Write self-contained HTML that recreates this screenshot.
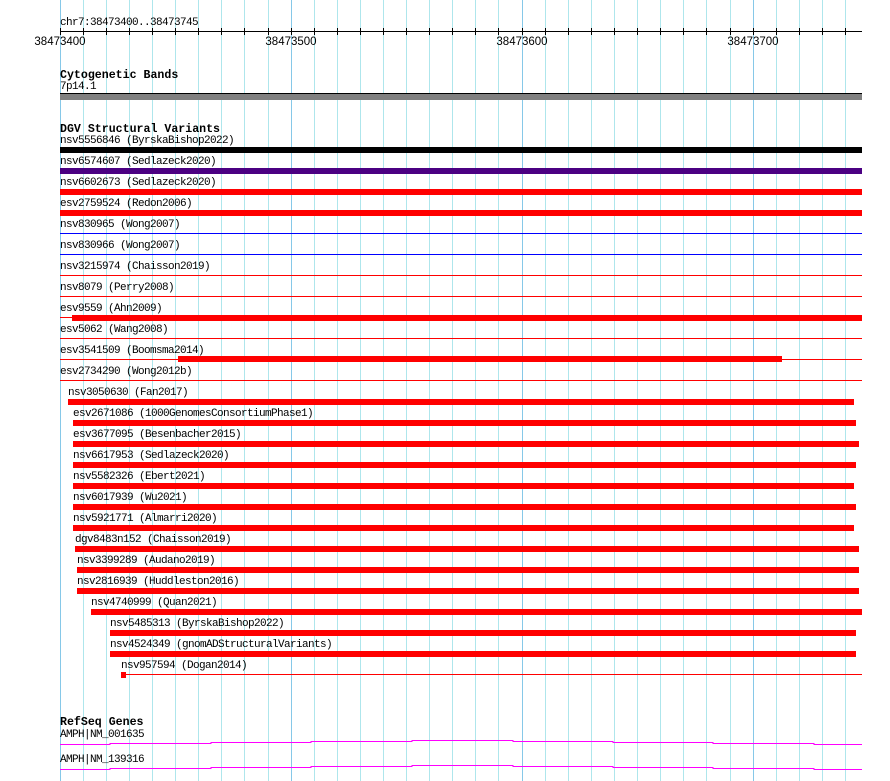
<!DOCTYPE html>
<html><head><meta charset="utf-8"><style>
html,body{margin:0;padding:0;background:#fff;width:890px;height:781px;overflow:hidden}
svg{display:block}
text{font-family:"Liberation Mono",monospace;font-size:11px;letter-spacing:-0.6px;fill:#000}
.t{font-weight:bold;font-size:11.6px;letter-spacing:0}
.s{font-family:"Liberation Sans",sans-serif;font-size:11.5px;letter-spacing:0}
</style></head><body>
<svg width="890" height="781" xmlns="http://www.w3.org/2000/svg">
<g stroke="#aee6ec" stroke-width="1">
<line x1="83.5" y1="0" x2="83.5" y2="781"/><line x1="106.5" y1="0" x2="106.5" y2="781"/><line x1="129.5" y1="0" x2="129.5" y2="781"/><line x1="152.5" y1="0" x2="152.5" y2="781"/><line x1="175.5" y1="0" x2="175.5" y2="781"/><line x1="198.5" y1="0" x2="198.5" y2="781"/><line x1="221.5" y1="0" x2="221.5" y2="781"/><line x1="244.5" y1="0" x2="244.5" y2="781"/><line x1="268.5" y1="0" x2="268.5" y2="781"/>
<line x1="314.5" y1="0" x2="314.5" y2="781"/><line x1="337.5" y1="0" x2="337.5" y2="781"/><line x1="360.5" y1="0" x2="360.5" y2="781"/><line x1="383.5" y1="0" x2="383.5" y2="781"/><line x1="406.5" y1="0" x2="406.5" y2="781"/><line x1="429.5" y1="0" x2="429.5" y2="781"/><line x1="452.5" y1="0" x2="452.5" y2="781"/><line x1="475.5" y1="0" x2="475.5" y2="781"/><line x1="498.5" y1="0" x2="498.5" y2="781"/>
<line x1="545.5" y1="0" x2="545.5" y2="781"/><line x1="568.5" y1="0" x2="568.5" y2="781"/><line x1="591.5" y1="0" x2="591.5" y2="781"/><line x1="614.5" y1="0" x2="614.5" y2="781"/><line x1="637.5" y1="0" x2="637.5" y2="781"/><line x1="660.5" y1="0" x2="660.5" y2="781"/><line x1="683.5" y1="0" x2="683.5" y2="781"/><line x1="706.5" y1="0" x2="706.5" y2="781"/><line x1="730.5" y1="0" x2="730.5" y2="781"/>
<line x1="776.5" y1="0" x2="776.5" y2="781"/><line x1="799.5" y1="0" x2="799.5" y2="781"/><line x1="822.5" y1="0" x2="822.5" y2="781"/><line x1="845.5" y1="0" x2="845.5" y2="781"/>
</g>
<g stroke="#86c8e8" stroke-width="1">
<line x1="60.5" y1="0" x2="60.5" y2="781"/><line x1="291.5" y1="0" x2="291.5" y2="781"/><line x1="522.5" y1="0" x2="522.5" y2="781"/><line x1="753.5" y1="0" x2="753.5" y2="781"/>
</g>
<!-- ruler -->
<text x="60" y="25">chr7:38473400..38473745</text>
<line x1="60" y1="31.5" x2="862" y2="31.5" stroke="#000"/>
<g stroke="#000">
<path d="M60.5 28V35M83.5 28V35M106.5 28V35M129.5 28V35M152.5 28V35M175.5 28V35M198.5 28V35M221.5 28V35M244.5 28V35M268.5 28V35M291.5 28V35M314.5 28V35M337.5 28V35M360.5 28V35M383.5 28V35M406.5 28V35M429.5 28V35M452.5 28V35M475.5 28V35M498.5 28V35M522.5 28V35M545.5 28V35M568.5 28V35M591.5 28V35M614.5 28V35M637.5 28V35M660.5 28V35M683.5 28V35M706.5 28V35M730.5 28V35M753.5 28V35M776.5 28V35M799.5 28V35M822.5 28V35M845.5 28V35"/>
</g>
<text class="s" x="60" y="45" text-anchor="middle">38473400</text>
<text class="s" x="291" y="45" text-anchor="middle">38473500</text>
<text class="s" x="522" y="45" text-anchor="middle">38473600</text>
<text class="s" x="753" y="45" text-anchor="middle">38473700</text>
<!-- cytobands -->
<text class="t" x="60" y="78">Cytogenetic Bands</text>
<text x="60" y="89">7p14.1</text>
<rect x="60" y="93" width="802" height="1" fill="#000"/>
<rect x="60" y="94" width="802" height="6" fill="#808080"/>
<!-- DGV -->
<text class="t" x="60" y="132">DGV Structural Variants</text>
<text x="60" y="143">nsv5556846 (ByrskaBishop2022)</text>
<rect x="60" y="147" width="802" height="6" fill="#000"/>
<text x="60" y="164">nsv6574607 (Sedlazeck2020)</text>
<rect x="60" y="168" width="802" height="6" fill="#4b0082"/>
<text x="60" y="185">nsv6602673 (Sedlazeck2020)</text>
<rect x="60" y="189" width="802" height="6" fill="#f00"/>
<text x="60" y="206">esv2759524 (Redon2006)</text>
<rect x="60" y="210" width="802" height="6" fill="#f00"/>
<text x="60" y="227">nsv830965 (Wong2007)</text>
<rect x="60" y="233" width="802" height="1" fill="#00f"/>
<text x="60" y="248">nsv830966 (Wong2007)</text>
<rect x="60" y="254" width="802" height="1" fill="#00f"/>
<text x="60" y="269">nsv3215974 (Chaisson2019)</text>
<rect x="60" y="275" width="802" height="1" fill="#f00"/>
<text x="60" y="290">nsv8079 (Perry2008)</text>
<rect x="60" y="296" width="802" height="1" fill="#f00"/>
<text x="60" y="311">esv9559 (Ahn2009)</text>
<rect x="60" y="317" width="12" height="1" fill="#f00"/>
<rect x="72" y="315" width="790" height="6" fill="#f00"/>
<text x="60" y="332">esv5062 (Wang2008)</text>
<rect x="60" y="338" width="802" height="1" fill="#f00"/>
<text x="60" y="353">esv3541509 (Boomsma2014)</text>
<rect x="60" y="359" width="802" height="1" fill="#f00"/>
<rect x="178" y="356" width="604" height="6" fill="#f00"/>
<text x="60" y="374">esv2734290 (Wong2012b)</text>
<rect x="60" y="380" width="802" height="1" fill="#f00"/>
<text x="68" y="395">nsv3050630 (Fan2017)</text>
<rect x="68" y="399" width="786" height="6" fill="#f00"/>
<text x="73" y="416">esv2671086 (1000GenomesConsortiumPhase1)</text>
<rect x="73" y="420" width="783" height="6" fill="#f00"/>
<text x="73" y="437">esv3677095 (Besenbacher2015)</text>
<rect x="73" y="441" width="786" height="6" fill="#f00"/>
<text x="73" y="458">nsv6617953 (Sedlazeck2020)</text>
<rect x="73" y="462" width="783" height="6" fill="#f00"/>
<text x="73" y="479">nsv5582326 (Ebert2021)</text>
<rect x="73" y="483" width="781" height="6" fill="#f00"/>
<text x="73" y="500">nsv6017939 (Wu2021)</text>
<rect x="73" y="504" width="783" height="6" fill="#f00"/>
<text x="73" y="521">nsv5921771 (Almarri2020)</text>
<rect x="73" y="525" width="781" height="6" fill="#f00"/>
<text x="75" y="542">dgv8483n152 (Chaisson2019)</text>
<rect x="75" y="546" width="784" height="6" fill="#f00"/>
<text x="77" y="563">nsv3399289 (Audano2019)</text>
<rect x="77" y="567" width="782" height="6" fill="#f00"/>
<text x="77" y="584">nsv2816939 (Huddleston2016)</text>
<rect x="77" y="588" width="782" height="6" fill="#f00"/>
<text x="91" y="605">nsv4740999 (Quan2021)</text>
<rect x="91" y="609" width="771" height="6" fill="#f00"/>
<text x="110" y="626">nsv5485313 (ByrskaBishop2022)</text>
<rect x="110" y="630" width="746" height="6" fill="#f00"/>
<text x="110" y="647">nsv4524349 (gnomADStructuralVariants)</text>
<rect x="110" y="651" width="746" height="6" fill="#f00"/>
<text x="121" y="668">nsv957594 (Dogan2014)</text>
<rect x="121" y="672" width="5" height="6" fill="#f00"/>
<rect x="126" y="674" width="736" height="1" fill="#f00"/>
<!-- genes -->
<text class="t" x="60" y="725">RefSeq Genes</text>
<text x="60" y="737">AMPH|NM_001635</text>
<path d="M60 744.5H110V743.5H211V742.5H311V741.5H412V740.5H513V741.5H613V742.5H713V743.5H814V744.5H862" fill="none" stroke="#f0f" stroke-width="1"/>
<text x="60" y="762">AMPH|NM_139316</text>
<path d="M60 769.5H110V768.5H211V767.5H311V766.5H412V765.5H513V766.5H613V767.5H713V768.5H814V769.5H862" fill="none" stroke="#f0f" stroke-width="1"/>
</svg>
</body></html>
